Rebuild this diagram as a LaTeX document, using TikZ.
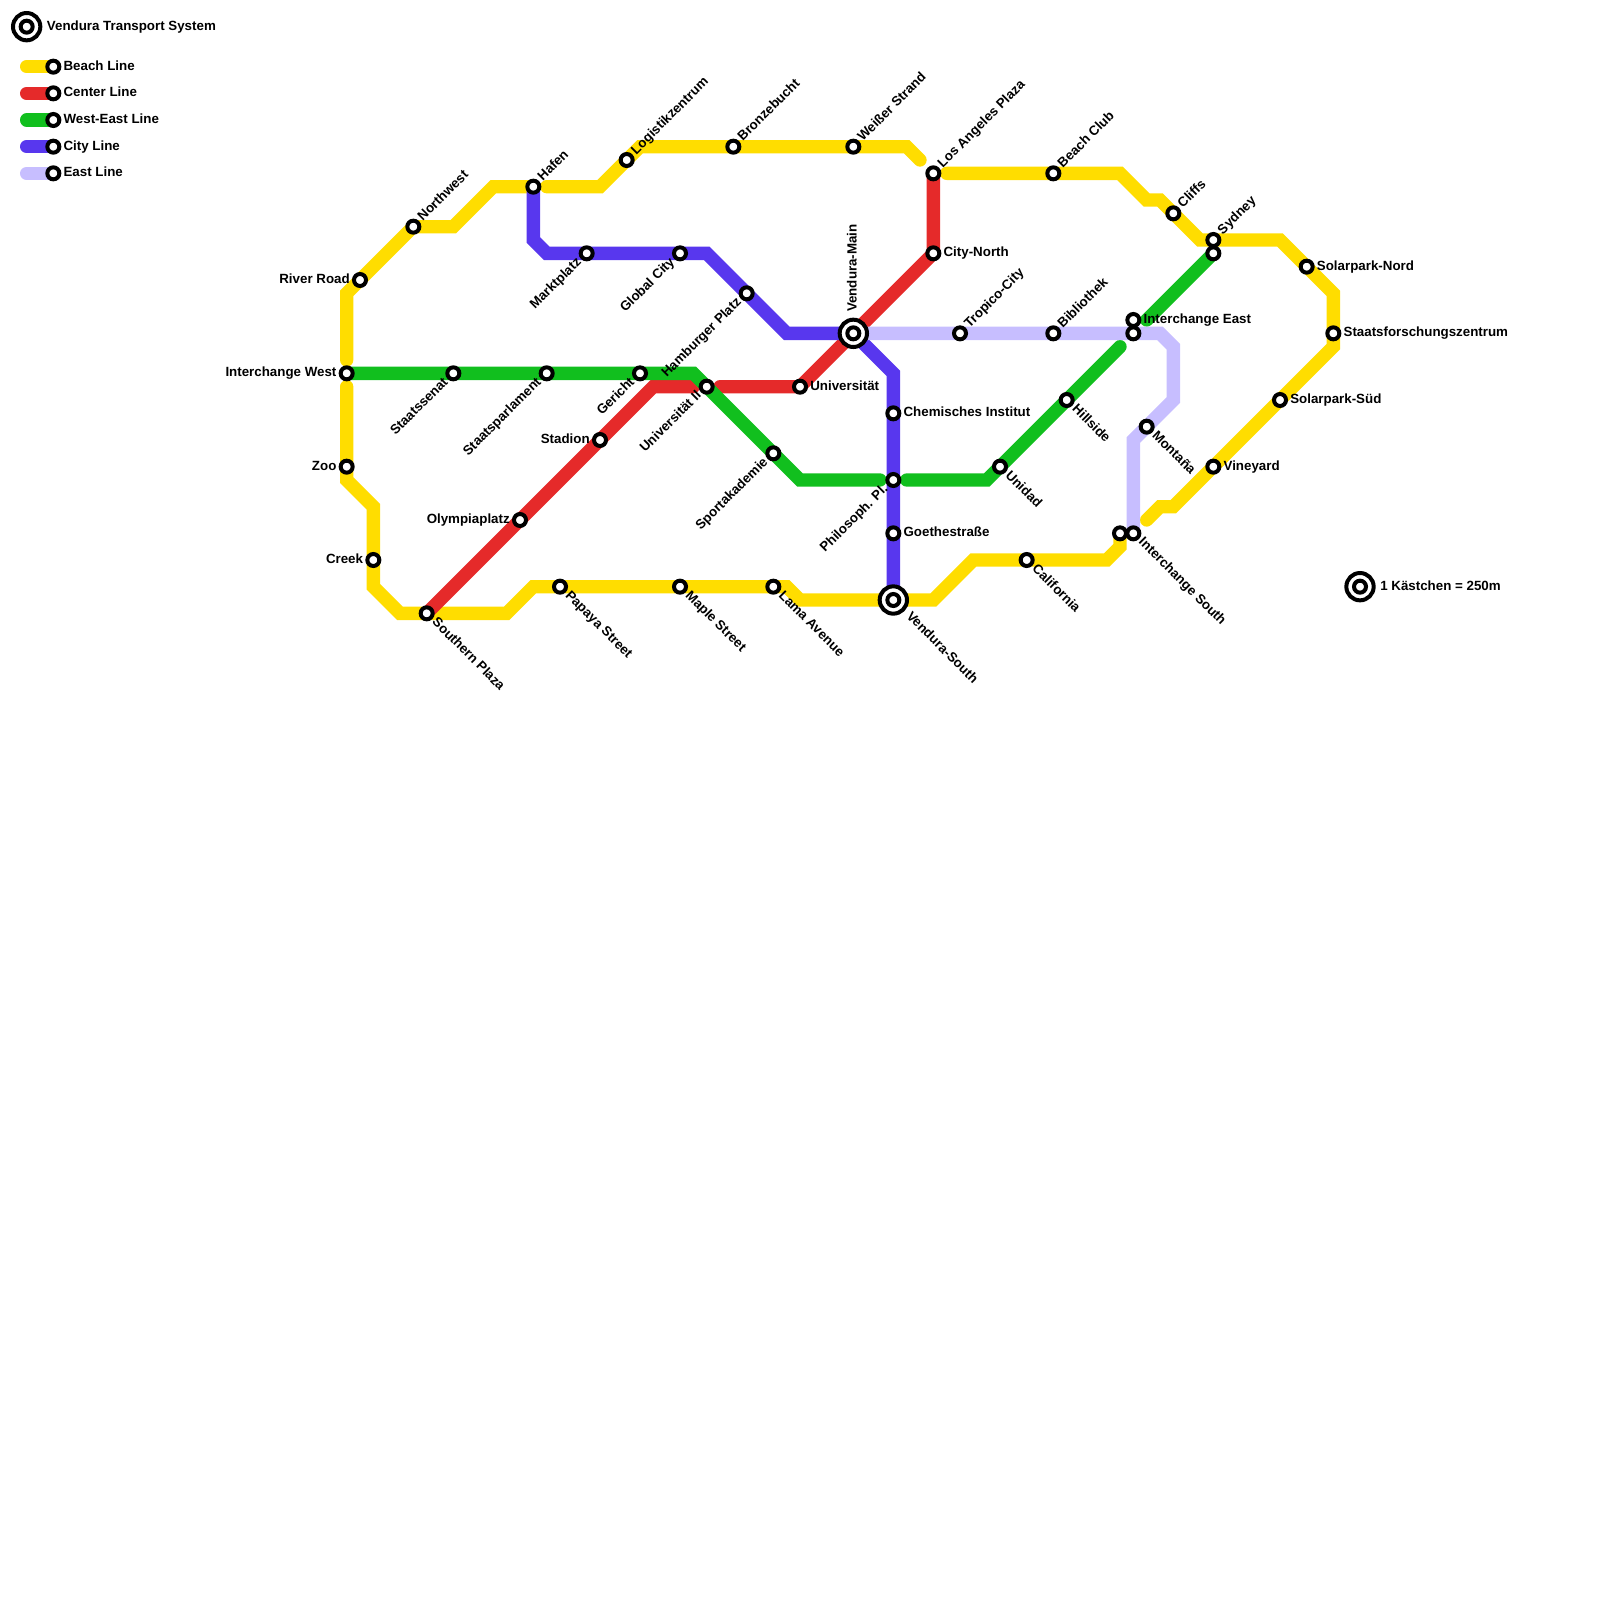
\documentclass[tikz,border=0pt]{standalone}
\usepackage{fontspec}
\setmainfont{Liberation Sans}
\definecolor{beach}{HTML}{FFDD00}
\definecolor{center}{HTML}{E52A2A}
\definecolor{westeast}{HTML}{11BF1E}
\definecolor{city}{HTML}{5837EE}
\definecolor{eastl}{HTML}{C7BEFF}
\tikzset{
  metro/.style={line width=10pt,line cap=round,line join=miter,miter limit=3},
  dot/.style={circle,draw=black,fill=white,line width=3pt,minimum size=9pt,inner sep=0pt},
  hubdot/.style={circle,draw=black,fill=white,line width=3pt,minimum size=20.5pt,inner sep=0pt},
  lab/.style={inner sep=0pt,font=\bfseries\fontsize{10}{12}\selectfont,text=black,yshift=-2.5pt},
  lr/.style={lab,anchor=base west,xshift=7.5pt},
  ll/.style={lab,anchor=base east,xshift=-7.5pt},
  lne/.style={rotate=45,lab,anchor=base west,xshift=7.5pt},
  lse/.style={rotate=-45,lab,anchor=base west,xshift=7.5pt},
  lsw/.style={rotate=45,lab,anchor=base east,xshift=-7.5pt},
}
\newcommand{\stn}[4]{\node[dot] (#1) at (#2) {}; \node[#4] (#1-t) at (#2) {#3};}
\newcommand{\hub}[5]{\node[hubdot] (#1) at (#2) {}; \node[dot] (#1-i) at (#2) {}; \node[#4,#5] (#1-t) at (#2) {#3};}
\begin{document}
\begin{tikzpicture}[x=10pt,y=-10pt]
\useasboundingbox (0,0) rectangle (120,120);
% Beach Line
\draw[metro,beach] (26,27)--(26,22)--(31,17)--(34,17)--(37,14)--(40,14);
\draw[metro,beach] (41,14)--(45,14)--(48,11)--(68,11)--(69,12);
\draw[metro,beach] (71,13)--(84,13)--(86,15)--(87,15)--(90,18)--(96,18)--(100,22)--(100,26)--(88,38)--(87,38)--(86,39);
\draw[metro,beach] (84,40)--(84,41)--(83,42)--(73,42)--(70,45)--(60,45)--(59,44)--(40,44)--(38,46)--(30,46)--(28,44)--(28,38)--(26,36)--(26,29);
% Center Line
\draw[metro,center] (32,46)--(49,29)--(52,29);
\draw[metro,center] (54,29)--(60,29)--(70,19)--(70,13);
% West-East Line
\draw[metro,westeast] (26,28)--(52,28)--(60,36)--(66,36);
\draw[metro,westeast] (68,36)--(74,36)--(84,26);
\draw[metro,westeast] (86,24)--(91,19);
% City Line
\draw[metro,city] (40,14)--(40,18)--(41,19)--(53,19)--(59,25)--(64,25)--(67,28)--(67,45);
% East Line
\draw[metro,eastl] (64,25)--(87,25)--(88,26)--(88,30)--(85,33)--(85,40);
% Legend
\draw[metro,beach] (2,5)--(4,5);
\draw[metro,center] (2,7)--(4,7);
\draw[metro,westeast] (2,9)--(4,9);
\draw[metro,city] (2,11)--(4,11);
\draw[metro,eastl] (2,13)--(4,13);
\hub{logo}{2,2}{Vendura Transport System}{lr}{xshift=7.5pt}
\stn{lg1}{4,5}{Beach Line}{lr}
\stn{lg2}{4,7}{Center Line}{lr}
\stn{lg3}{4,9}{West-East Line}{lr}
\stn{lg4}{4,11}{City Line}{lr}
\stn{lg5}{4,13}{East Line}{lr}
\hub{scale}{102,44}{1 Kästchen = 250m}{lr}{xshift=7.5pt}
% Stations
\stn{s1}{31,17}{Northwest}{lne}
\stn{s2}{27,21}{River Road}{ll}
\stn{s3}{26,28}{Interchange West}{ll}
\stn{s4}{34,28}{Staatssenat}{lsw}
\stn{s5}{41,28}{Staatsparlament}{lsw}
\stn{s6}{48,28}{Gericht}{lsw}
\stn{s7}{40,14}{Hafen}{lne}
\stn{s8}{47,12}{Logistikzentrum}{lne}
\stn{s9}{55,11}{Bronzebucht}{lne}
\stn{s10}{64,11}{Weißer Strand}{lne}
\stn{s11}{70,13}{Los Angeles Plaza}{lne}
\stn{s12}{79,13}{Beach Club}{lne}
\stn{s13}{88,16}{Cliffs}{lne}
\stn{s14}{91,18}{Sydney}{lne}
\node[dot] (s14b) at (91,19) {};
\stn{s15}{98,20}{Solarpark-Nord}{lr}
\stn{s16}{100,25}{Staatsforschungszentrum}{lr}
\stn{s17}{96,30}{Solarpark-Süd}{lr}
\stn{s18}{91,35}{Vineyard}{lr}
\stn{s19}{85,24}{Interchange East}{lr}
\node[dot] (s19b) at (85,25) {};
\stn{s20}{79,25}{Bibliothek}{lne}
\stn{s21}{72,25}{Tropico-City}{lne}
\hub{main}{64,25}{Vendura-Main}{rotate=90,lab,anchor=base west}{xshift=16pt}
\stn{s22}{70,19}{City-North}{lr}
\stn{s23}{60,29}{Universität}{lr}
\stn{s24}{53,29}{Universität II}{lsw}
\stn{s25}{56,22}{Hamburger Platz}{lsw}
\stn{s26}{51,19}{Global City}{lsw}
\stn{s27}{44,19}{Marktplatz}{lsw}
\stn{s28}{67,31}{Chemisches Institut}{lr}
\stn{s29}{67,36}{Philosoph. Pl.}{lsw}
\stn{s30}{67,40}{Goethestraße}{lr}
\hub{south}{67,45}{Vendura-South}{rotate=-45,lab,anchor=base west}{xshift=15.5pt}
\stn{s31}{58,34}{Sportakademie}{lsw}
\stn{s32}{45,33}{Stadion}{ll}
\stn{s33}{39,39}{Olympiaplatz}{ll}
\stn{s34}{32,46}{Southern Plaza}{lse}
\stn{s35}{28,42}{Creek}{ll}
\stn{s36}{26,35}{Zoo}{ll}
\stn{s37}{42,44}{Papaya Street}{lse}
\stn{s38}{51,44}{Maple Street}{lse}
\stn{s39}{58,44}{Lama Avenue}{lse}
\stn{s40}{77,42}{California}{lse}
\node[dot] (s41b) at (84,40) {};
\stn{s41}{85,40}{Interchange South}{lse}
\stn{s42}{75,35}{Unidad}{lse}
\stn{s43}{80,30}{Hillside}{lse}
\stn{s44}{86,32}{Montaña}{lse}
\end{tikzpicture}
\end{document}
